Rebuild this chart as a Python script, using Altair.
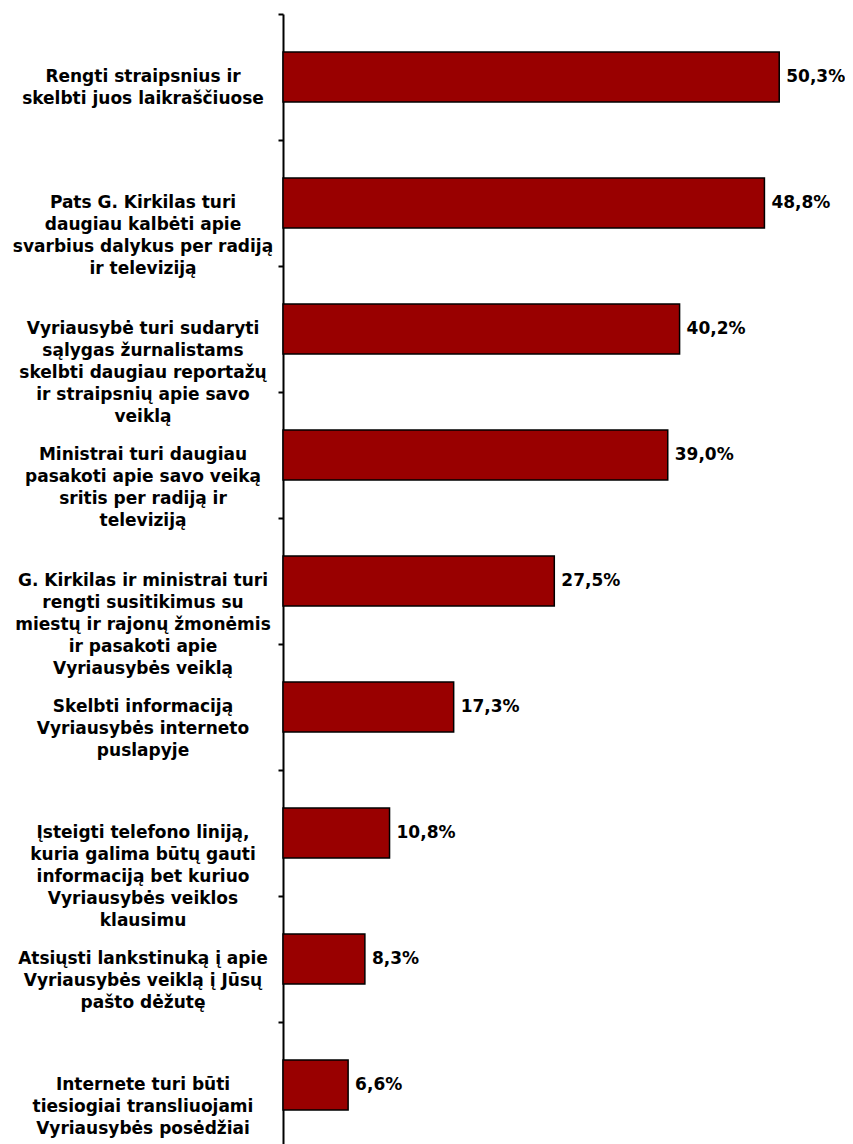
import altair as alt
import pandas as pd

labels = [
    "Rengti straipsnius ir\nskelbti juos laikraščiuose",
    "Pats G. Kirkilas turi\ndaugiau kalbėti apie\nsvarbius dalykus per radiją\nir televiziją",
    "Vyriausybė turi sudaryti\nsąlygas žurnalistams\nskelbti daugiau reportažų\nir straipsnių apie savo\nveiklą",
    "Ministrai turi daugiau\npasakoti apie savo veiką\nsritis per radiją ir\ntelevizija",
    "G. Kirkilas ir ministrai turi\nrengti susitikimus su\nmiestų ir rajonų žmonėmis\nir pasakoti apie\nVyriausybės veiklą",
    "Skelbti informaciją\nVyriausybės interneto\npuslapyje",
    "Įsteigti telefono liniją,\nkuria galima būtų gauti\ninformaciją bet kuriuo\nVyriausybės veiklos\nklausimu",
    "Atsiųsti lankstinuką į apie\nVyriausybės veiklą į Jūsų\npašto dėžutę",
    "Internete turi būti\ntiesiogiai transliuojami\nVyriausybės posėdžiai",
]
labels[3] = labels[3].replace("televizija", "televiziją")
values = [50.3, 48.8, 40.2, 39.0, 27.5, 17.3, 10.8, 8.3, 6.6]
value_text = [f"{v:.1f}".replace(".", ",") + "%" for v in values]

df = pd.DataFrame({"label": labels, "value": values, "vtext": value_text})

FONT = "DejaVu Sans"
FS = 17
y = alt.Y(
    "label:N",
    sort=labels,
    scale=alt.Scale(paddingInner=0, paddingOuter=0, range=[0, 1134]),
    axis=alt.Axis(
        labels=False,
        title=None,
        grid=False,
        domain=True,
        domainColor="black",
        domainWidth=2,
        ticks=True,
        tickBand="extent",
        tickSize=5,
        tickWidth=2,
        tickColor="black",
    ),
)
x = alt.X("value:Q", scale=alt.Scale(domain=[0, 52]), axis=None)

bars = alt.Chart(df).mark_bar(
    color="#990000", stroke="black", strokeWidth=1.5, height={"band": 0.397}
).encode(x=x, y=y)

vals = alt.Chart(df).mark_text(
    align="left", baseline="middle", dx=7, fontSize=FS, fontWeight="bold", font=FONT, color="black"
).encode(x=x, y=alt.Y("label:N", sort=labels), text="vtext:N")

cats = alt.Chart(df).mark_text(
    align="center", baseline="middle", lineBreak="\n", lineHeight=22,
    fontSize=FS, fontWeight="bold", font=FONT, color="black"
).encode(x=alt.value(-140), y=alt.Y("label:N", sort=labels), text="label:N")

chart = (
    alt.layer(bars, vals, cats)
    .properties(
        width=513,
        height=1130,
        padding={"left": 275, "top": 6, "right": 49, "bottom": 0},
        autosize=alt.AutoSizeParams(type="none"),
    )
    .configure_view(stroke=None)
)

chart.save("out.html", embed_options={"renderer": "svg", "actions": False})
